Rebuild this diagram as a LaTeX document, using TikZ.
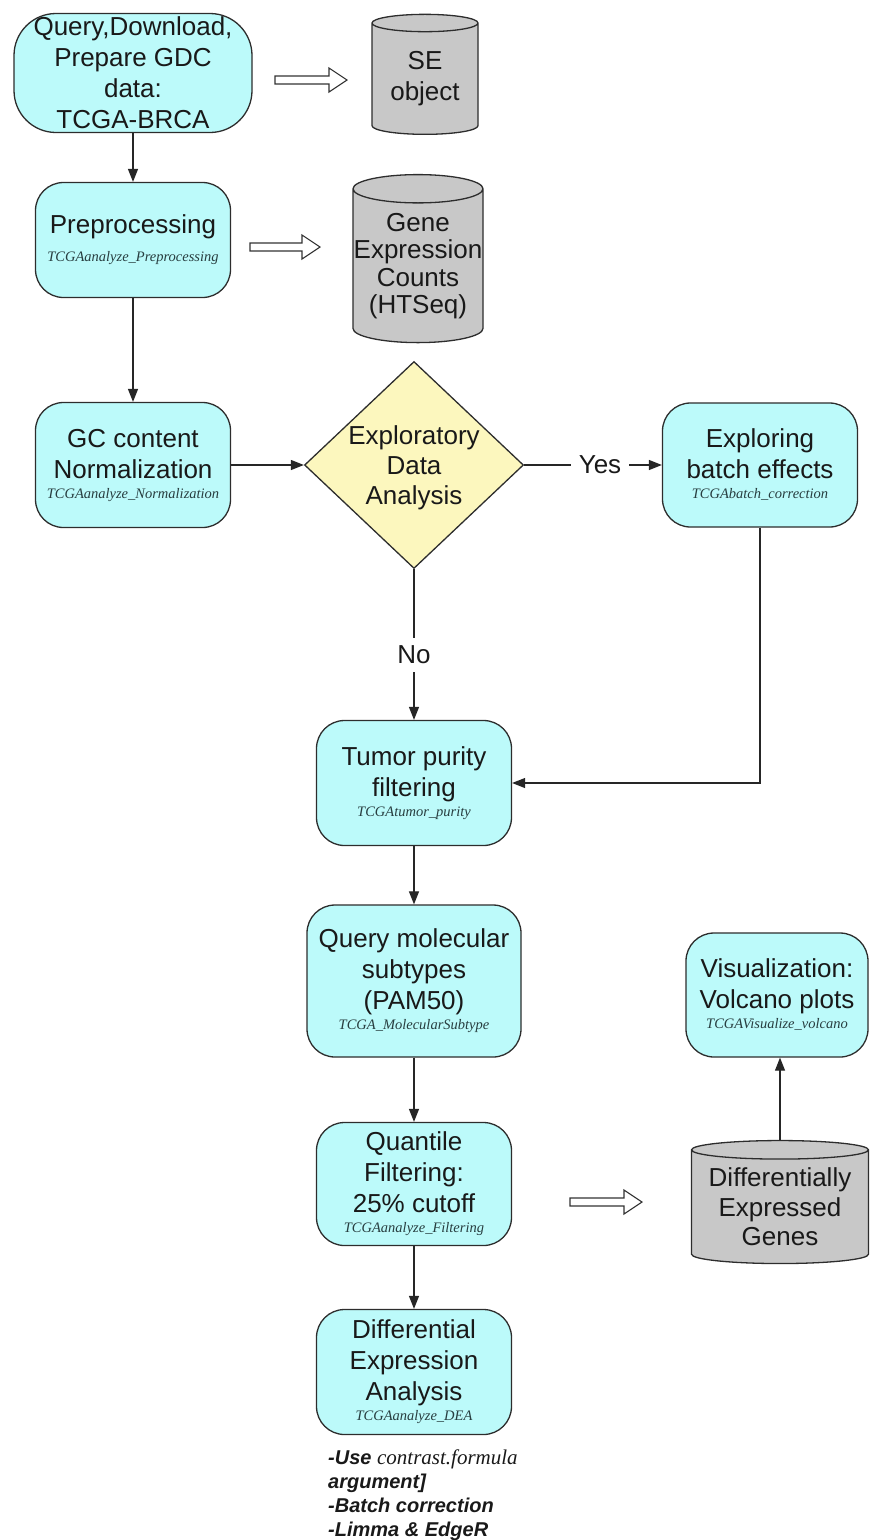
\documentclass[tikz,border=0pt]{standalone}
\usepackage{fontspec}
\setmainfont{Liberation Sans}
\newfontfamily\tnr{Liberation Serif}
\usetikzlibrary{calc,arrows.meta,shapes.geometric}
\definecolor{boxcyan}{RGB}{188,250,250}
\definecolor{edayellow}{RGB}{252,247,190}
\definecolor{cylgray}{RGB}{200,200,200}
\definecolor{subtext}{RGB}{40,62,64}
\definecolor{edge}{RGB}{45,45,45}
\newcommand\fn[1]{{\tnr\itshape\fontsize{14.5}{16}\selectfont\color{subtext}#1}}
\def\fatarrow(#1)(#2){\draw[fatline] ($(#1)+(0,-4)$) -- ($(#2)+(-18,-4)$) -- ($(#2)+(-18,-12)$) -- (#2) -- ($(#2)+(-18,12)$) -- ($(#2)+(-18,4)$) -- ($(#1)+(0,4)$) -- cycle;}

\begin{document}
\begin{tikzpicture}[x=1pt,y=-1pt,font=\fontsize{26}{31}\selectfont,
    procbox/.style={draw=edge, line width=1.3pt, fill=boxcyan, rounded corners=28pt, align=center, inner sep=0pt, minimum width=195pt, minimum height=125pt, text=black!90},
    database/.style={draw=edge, line width=1.3pt, fill=cylgray, cylinder, shape border rotate=90, aspect=0.22, inner sep=0pt, align=center, text=black!90},
    decision/.style={draw=edge, line width=1.3pt, fill=edayellow, diamond, inner sep=0pt, minimum width=219pt, minimum height=207pt},
    flow/.style={line width=1.2pt, draw=black!85, -{Triangle[length=13pt,width=10pt]}},
    plain/.style={line width=1.2pt, draw=black!85},
    fatline/.style={line width=1.1pt, draw=black!80, fill=white},
    tag/.style={inner sep=8pt, text=black!90}]
			%%%%% START %%%%%
			\useasboundingbox (0,0) rectangle (871,1540);
			
			\node[procbox, minimum width=238pt, minimum height=119pt, rounded corners=42pt] (query) at (133,73) {Query,Download,\\Prepare GDC\\data:\\TCGA-BRCA};
			\node[database, minimum width=106pt, minimum height=120pt, aspect=0.25] (se) at (425,79) {SE\\object};
			
			\node[procbox, minimum height=115pt] (prep) at (133,240) {Preprocessing\\[-3pt]\fn{TCGAanalyze\_Preprocessing}};
			\node[database, minimum width=130pt, minimum height=168pt, font=\fontsize{26}{27.5}\selectfont] (gene) at (418,266) {Gene\\Expression\\Counts\\(HTSeq)};
			
			\node[procbox] (gc) at (133,465) {GC content\\Normalization\\[-11pt]\fn{TCGAanalyze\_Normalization}};
			\node[decision] (eda) at (414,465) {};
			\node[align=center, font=\fontsize{26}{30}\selectfont, text=black!90] (edatext) at (414,468) {Exploratory\\Data\\Analysis};
			\node[tag] (yes) at (600,465) {Yes};
			\node[procbox, minimum height=124pt] (batch) at (760,465) {Exploring\\batch effects\\[-11pt]\fn{TCGAbatch\_correction}};
			
			\node[tag] (no) at (414,655) {No};
			\node[procbox] (tumor) at (414,783) {Tumor purity\\filtering\\[-11pt]\fn{TCGAtumor\_purity}};
			
			\node[procbox, minimum width=214pt, minimum height=152pt] (mol) at (414,981) {Query molecular\\subtypes\\(PAM50)\\[-11pt]\fn{TCGA\_MolecularSubtype}};
			\node[procbox, minimum width=182pt, minimum height=124pt] (volc) at (777,995) {Visualization:\\Volcano plots\\[-11pt]\fn{TCGAVisualize\_volcano}};
			
			\node[procbox, minimum height=123pt] (quant) at (414,1184) {Quantile\\Filtering:\\25\% cutoff\\[-11pt]\fn{TCGAanalyze\_Filtering}};
			\node[database, minimum width=177pt, minimum height=123pt, aspect=0.13, font=\fontsize{26}{29.5}\selectfont] (degs) at (780,1207) {Differentially\\Expressed\\Genes};
			
			\node[procbox] (dea) at (414,1372) {Differential\\Expression\\Analysis\\[-11pt]\fn{TCGAanalyze\_DEA}};
			\node[anchor=north west, align=left, inner sep=0pt, text=black!90, font=\fontsize{20}{24}\selectfont\bfseries\itshape] (notes) at (328,1449) {-Use {\tnr\mdseries\itshape\fontsize{21}{24}\selectfont contrast.formula}\\argument]\\-Batch correction\\-Limma \& EdgeR};
			
			\draw[flow] (query) -- (prep);
			\draw[flow] (prep) -- (gc);
			\draw[flow] (gc.east) -- (eda.west);
			\draw[plain] (eda.east) -- (yes);
			\draw[flow] (yes) -- (batch.west);
			\draw[plain] (eda.south) -- (no);
			\draw[flow] (no) -- (tumor);
			\draw[flow] (batch.south) |- (tumor.east);
			\draw[flow] (tumor) -- (mol);
			\draw[flow] (mol) -- (quant);
			\draw[flow] (quant) -- (dea);
			\draw[flow] (degs.north) -- (degs.north |- volc.south);
			
			\coordinate (fa1a) at (275,80);
			\coordinate (fa1b) at (347,80);
			\coordinate (fa2a) at (250,247);
			\coordinate (fa2b) at (320,247);
			\coordinate (fa3a) at (570,1202);
			\coordinate (fa3b) at (642,1202);
			\fatarrow(fa1a)(fa1b)
			\fatarrow(fa2a)(fa2b)
			\fatarrow(fa3a)(fa3b)
			%%%%% END %%%%%
\end{tikzpicture}
\end{document}
